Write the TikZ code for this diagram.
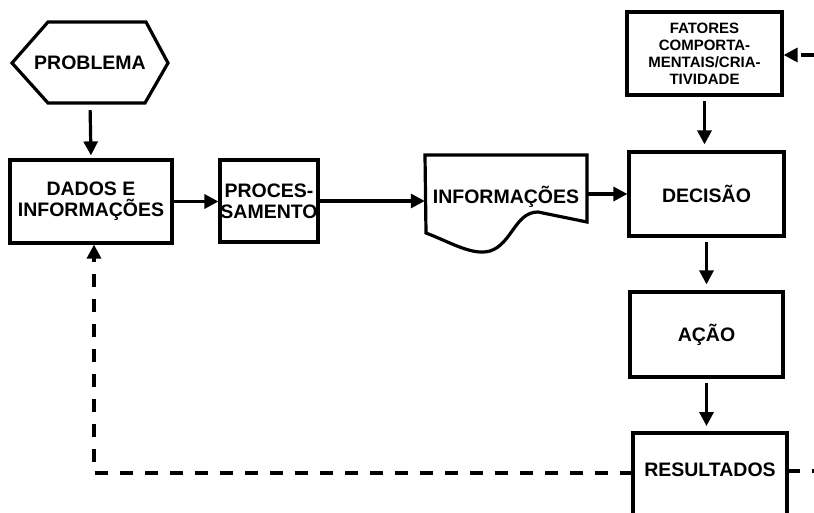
\documentclass[tikz,border=0pt]{standalone}
\usepackage{fontspec}
\setmainfont{Liberation Sans}
\usetikzlibrary{arrows.meta}
\begin{document}
\begin{tikzpicture}[x=1pt,y=-1pt,
  lw/.style={line width=3.2pt},
  box/.style={draw, lw, inner sep=0pt, align=center,
    font=\bfseries\fontsize{19.5}{21}\selectfont},
  smallbox/.style={box, font=\bfseries\fontsize{15}{17}\selectfont},
  txt/.style={inner sep=0pt, align=center, font=\bfseries\fontsize{19.5}{21}\selectfont},
  arr/.style={lw, -{Triangle[length=14pt,width=14pt]}},
  dsh/.style={lw, dash pattern=on 13pt off 12pt},
  darr/.style={dsh, -{Triangle[length=14pt,width=14pt]}}]
\useasboundingbox (0,0) rectangle (814,513);

% PROBLEMA hexagon
\draw[lw, line join=miter] (12,63) -- (48,22) -- (146,22) -- (168,63) -- (145,103) -- (48,103) -- cycle;
\node[txt, minimum width=156pt, minimum height=81pt] (prob) at (90,62.5) {PROBLEMA};

% boxes
\node[box, minimum width=162pt, minimum height=83pt] (dados) at (91,201.5) {DADOS E\\INFORMAÇÕES};
\node[box, minimum width=98pt, minimum height=82pt] (proc) at (269,201) {PROCES-\\SAMENTO};

% INFORMAÇÕES document
\draw[lw] (425,155) -- (587,155) -- (587,222) -- (538,212)
  .. controls (515,212) and (512,244) .. (490,251)
  .. controls (472,256) and (450,242) .. (426,233) -- cycle;
\node[txt, minimum width=162pt, minimum height=84pt] (info) at (506,197) {INFORMAÇÕES};

\node[box, minimum width=155pt, minimum height=84pt] (decisao) at (706.5,194) {DECISÃO};
\node[smallbox, minimum width=155pt, minimum height=83pt] (fatores) at (704.5,53.5)
  {FATORES\\COMPORTA-\\MENTAIS/CRIA-\\TIVIDADE};
\node[box, minimum width=153pt, minimum height=85pt] (acao) at (706.5,334.5) {AÇÃO};

% RESULTADOS (open at the bottom)
\draw[lw] (633,520) -- (633,433) -- (787,433) -- (787,520);
\node[txt] (res) at (710,470) {RESULTADOS};
\coordinate (restop) at (706.5,433);
\coordinate (resL) at (633,473);
\coordinate (resR) at (787,471);
\coordinate (edgeR) at (814,471);
\coordinate (finR) at (814,55);

% connectors
\draw[arr, shorten <=7pt, shorten >=3pt] (prob.south) -- (dados.north);
\draw[arr] (dados.east) -- (dados.east -| proc.west);
\draw[arr] (proc.east) -- (proc.east -| info.west);
\draw[arr] (info.east |- decisao.west) -- (decisao.west);
\draw[arr, shorten <=4pt, shorten >=6pt] (fatores.south) -- (fatores.south |- decisao.north);
\draw[arr, shorten <=4pt, shorten >=6pt] (decisao.south) -- (acao.north);
\draw[arr, shorten <=4pt, shorten >=7pt] (acao.south) -- (restop);
\draw[darr] (resL) -| ([xshift=3pt]dados.south);
\draw[dsh] (resR) -- (edgeR);
\draw[darr] (finR) -- (finR -| fatores.east);
\end{tikzpicture}
\end{document}
